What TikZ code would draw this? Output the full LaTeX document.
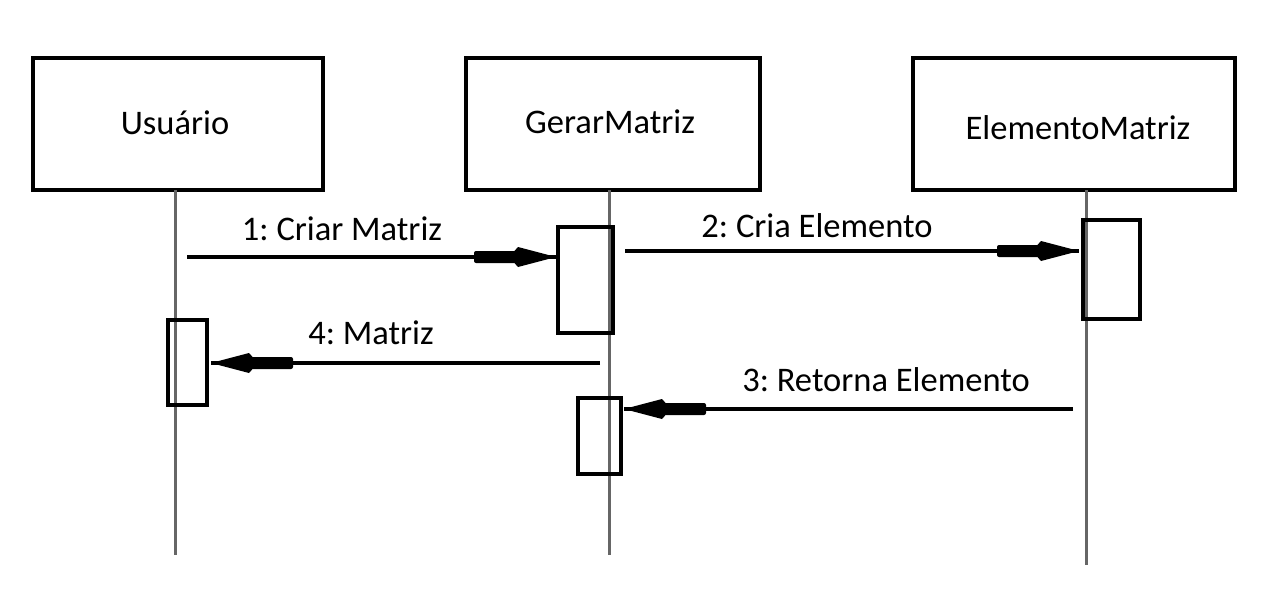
\documentclass[tikz,border=0pt]{standalone}
\usepackage{fontspec}
\setmainfont{Carlito}
\frenchspacing
\begin{document}
\begin{tikzpicture}[x=1pt,y=-1pt,
  obj/.style={draw=black,line width=4pt,minimum width=#1,minimum height=132pt,inner sep=0pt,font=\fontsize{34.5}{40}\selectfont},
  act/.style={draw=black,line width=4pt},
  life/.style={draw=gray!80!black,line width=3pt},
  msg/.style={draw=black,line width=3.4pt},
  lbl/.style={font=\fontsize{34.5}{40}\selectfont,inner sep=0pt}]
\useasboundingbox (0,0) rectangle (1282,607);
\newcommand\sketchtip[2]{%
  \begin{scope}[shift={(#1)},xscale=#2]
    \fill (-47,0) -- (-38,10) -- (0,0) -- (-38,-10) -- cycle;
    \fill[rounded corners=2pt] (-82,-6) rectangle (-40,6);
  \end{scope}}
% lifelines
\coordinate (l1e) at (175,555);
\coordinate (l2e) at (609,555);
\coordinate (l3e) at (1086,565);
\node[obj=290pt] (usr) at (178,124) {};
\node[obj=294pt] (ger) at (613,124) {};
\node[obj=322pt] (ele) at (1074,124) {};
\node[lbl] at (175,123) {Usuário};
\node[lbl] at (610,122) {GerarMatriz};
\node[lbl] at (1078,128) {ElementoMatriz};
\draw[life] (175,190) -- (l1e);
\draw[life] (609,190) -- (l2e);
\draw[life] (1086,190) -- (l3e);
% activation boxes
\draw[act] (558,227) rectangle (613,333);
\draw[act] (1083,220) rectangle (1140,319);
\draw[act] (168,320) rectangle (207,405);
\draw[act] (578,398) rectangle (621,474);
% messages
\coordinate (m1s) at (187,257); \coordinate (m1e) at (556,257);
\coordinate (m2s) at (625,251); \coordinate (m2e) at (1079,251);
\coordinate (m3s) at (1073,409); \coordinate (m3e) at (624,409);
\coordinate (m4s) at (600,363); \coordinate (m4e) at (211,363);
\draw[msg] (m1s) -- (m1e); \sketchtip{m1e}{1}
\draw[msg] (m2s) -- (m2e); \sketchtip{m2e}{1}
\draw[msg] (m3s) -- (m3e); \sketchtip{m3e}{-1}
\draw[msg] (m4s) -- (m4e); \sketchtip{m4e}{-1}
\node[lbl] (t1) at (342,229) {1: Criar Matriz};
\node[lbl] (t2) at (817,226) {2: Cria Elemento};
\node[lbl] (t3) at (886,380) {3: Retorna Elemento};
\node[lbl] (t4) at (371,333) {4: Matriz};
\end{tikzpicture}
\end{document}
